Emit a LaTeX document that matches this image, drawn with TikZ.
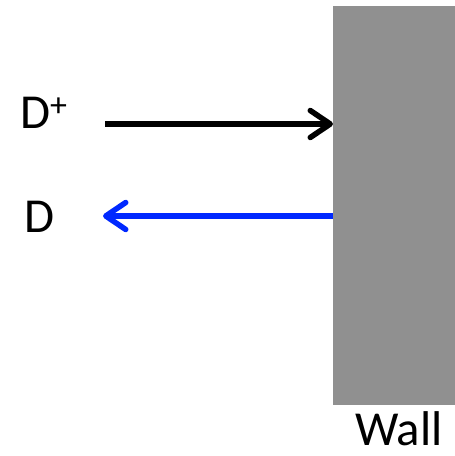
\documentclass[tikz,border=0pt]{standalone}
\usepackage{fontspec}
\setmainfont{Carlito}
\usetikzlibrary{arrows.meta}
\definecolor{wallgray}{RGB}{144,144,144}
\definecolor{arrowblue}{RGB}{0,40,255}
\begin{document}
\begin{tikzpicture}[x=1bp,y=-1bp,
  lbl/.style={inner sep=0pt,anchor=base west,font=\fontsize{49}{53}\selectfont},
  arr/.style={line width=5.5bp,-{Straight Barb[length=20bp,width=27bp,round]}}]
\useasboundingbox (0,0) rectangle (455,456);
\node[fill=wallgray,draw=none,minimum width=122bp,minimum height=399bp,inner sep=0pt,anchor=north west] (wall) at (333,6) {};
\coordinate (s1) at (105,124);
\coordinate (e2) at (103,216);
\draw[arr] (s1) -- (s1 -| wall.west);
\draw[arr,arrowblue] (e2 -| wall.west) -- (e2);
\node[lbl] (dplus) at (20,129) {D\raisebox{12bp}{\fontsize{34}{36}\selectfont +}};
\node[lbl] (d) at (24,232) {D};
\node[lbl] (walllbl) at (355,445) {Wall};
\end{tikzpicture}
\end{document}
